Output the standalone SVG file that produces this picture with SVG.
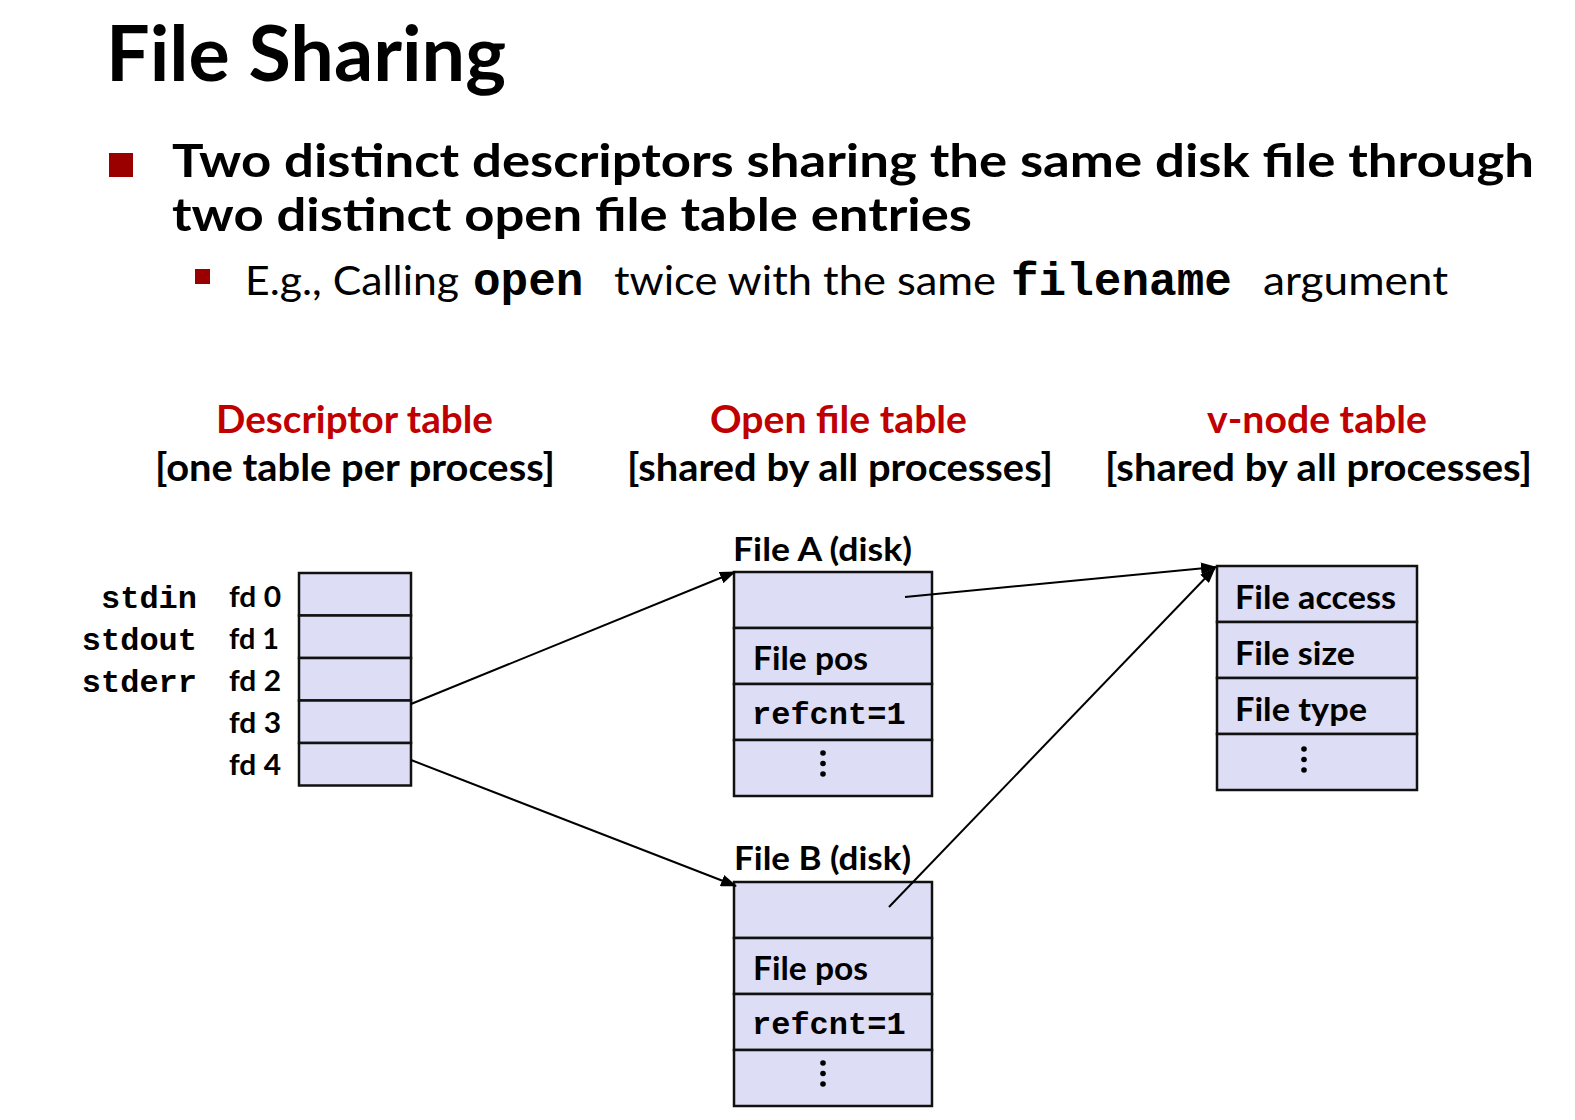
<svg xmlns="http://www.w3.org/2000/svg" width="1575" height="1120" viewBox="0 0 1575 1120">
<style>
.sans{font-family:Lato,"Open Sans","Liberation Sans",sans-serif;}
.b{font-weight:bold;}
.mono{font-family:"Liberation Mono","Courier New",monospace;font-weight:bold;}
.red{fill:#C00000;}
.cell{fill:#DDDDF5;stroke:#111;stroke-width:2.5;}
.lbl{font-family:Lato,"Open Sans","Liberation Sans",sans-serif;font-weight:bold;font-size:33px;fill:#000;}
.fd{font-family:Lato,"Open Sans","Liberation Sans",sans-serif;font-weight:bold;font-size:29px;fill:#000;}
.std{font-family:"Liberation Mono","Courier New",monospace;font-weight:bold;font-size:32px;fill:#000;}
.hdr{font-family:Lato,"Open Sans","Liberation Sans",sans-serif;font-weight:bold;font-size:38.5px;}
.conn{stroke:#000;stroke-width:2;fill:none;marker-end:url(#arr);}
.dot{fill:#000;}
</style>
<defs>
<marker id="arr" markerUnits="userSpaceOnUse" markerWidth="16" markerHeight="12" refX="15" refY="6" orient="auto">
<path d="M0,0 L16,6 L0,12 z" fill="#000"/>
</marker>
</defs>
<rect width="1575" height="1120" fill="#fff"/>

<g id="title">
<text class="sans b" x="106" y="81" font-size="77" textLength="400" lengthAdjust="spacingAndGlyphs">File Sharing</text>
</g>

<g id="bullets">
<rect x="109" y="153" width="24" height="24" fill="#9A0000"/>
<text class="sans b" x="172" y="177" font-size="45" textLength="1362" lengthAdjust="spacingAndGlyphs">Two distinct descriptors sharing the same disk file through</text>
<text class="sans b" x="172" y="231" font-size="45" textLength="800" lengthAdjust="spacingAndGlyphs">two distinct open file table entries</text>
<rect x="195" y="269" width="15" height="15" fill="#9A0000"/>
<text class="sans" x="245" y="295" font-size="41" textLength="214" lengthAdjust="spacingAndGlyphs">E.g., Calling</text>
<text class="mono" x="473" y="295" font-size="46">open</text>
<text class="sans" x="614" y="295" font-size="41" textLength="382" lengthAdjust="spacingAndGlyphs">twice with the same</text>
<text class="mono" x="1011" y="295" font-size="46">filename</text>
<text class="sans" x="1263" y="295" font-size="41" textLength="185" lengthAdjust="spacingAndGlyphs">argument</text>
</g>

<g id="headers">
<text class="hdr red" x="216" y="433" textLength="277" lengthAdjust="spacingAndGlyphs">Descriptor table</text>
<text class="hdr" x="155" y="481" textLength="400" lengthAdjust="spacingAndGlyphs">[one table per process]</text>
<text class="hdr red" x="710" y="433" textLength="257" lengthAdjust="spacingAndGlyphs">Open file table</text>
<text class="hdr" x="627" y="481" textLength="426" lengthAdjust="spacingAndGlyphs">[shared by all processes]</text>
<text class="hdr red" x="1207" y="433" textLength="220" lengthAdjust="spacingAndGlyphs">v-node table</text>
<text class="hdr" x="1105" y="481" textLength="427" lengthAdjust="spacingAndGlyphs">[shared by all processes]</text>
</g>

<g id="descriptor-table">
<rect class="cell" x="299" y="573" width="112" height="42.5"/>
<rect class="cell" x="299" y="615.5" width="112" height="42.5"/>
<rect class="cell" x="299" y="658" width="112" height="42.5"/>
<rect class="cell" x="299" y="700.5" width="112" height="42.5"/>
<rect class="cell" x="299" y="743" width="112" height="42.5"/>
<text class="std" x="197" y="608" text-anchor="end">stdin</text>
<text class="std" x="197" y="650" text-anchor="end">stdout</text>
<text class="std" x="197" y="692" text-anchor="end">stderr</text>
<text class="fd" x="229" y="607" textLength="52" lengthAdjust="spacingAndGlyphs">fd 0</text>
<text class="fd" x="229" y="649" textLength="50" lengthAdjust="spacingAndGlyphs">fd 1</text>
<text class="fd" x="229" y="691" textLength="52" lengthAdjust="spacingAndGlyphs">fd 2</text>
<text class="fd" x="229" y="733" textLength="52" lengthAdjust="spacingAndGlyphs">fd 3</text>
<text class="fd" x="229" y="775" textLength="52" lengthAdjust="spacingAndGlyphs">fd 4</text>
</g>

<g id="file-a">
<text class="lbl" x="733" y="561" textLength="179" lengthAdjust="spacingAndGlyphs">File A (disk)</text>
<rect class="cell" x="734" y="572" width="198" height="56"/>
<rect class="cell" x="734" y="628" width="198" height="56"/>
<rect class="cell" x="734" y="684" width="198" height="56"/>
<rect class="cell" x="734" y="740" width="198" height="56"/>
<text class="lbl" x="753" y="670" textLength="115" lengthAdjust="spacingAndGlyphs">File pos</text>
<text class="std" x="752" y="724">refcnt=1</text>
<circle class="dot" cx="823" cy="753" r="2.8"/>
<circle class="dot" cx="823" cy="763.5" r="2.8"/>
<circle class="dot" cx="823" cy="774" r="2.8"/>
</g>

<g id="file-b">
<text class="lbl" x="734" y="870" textLength="177" lengthAdjust="spacingAndGlyphs">File B (disk)</text>
<rect class="cell" x="734" y="882" width="198" height="56"/>
<rect class="cell" x="734" y="938" width="198" height="56"/>
<rect class="cell" x="734" y="994" width="198" height="56"/>
<rect class="cell" x="734" y="1050" width="198" height="56"/>
<text class="lbl" x="753" y="980" textLength="115" lengthAdjust="spacingAndGlyphs">File pos</text>
<text class="std" x="752" y="1034">refcnt=1</text>
<circle class="dot" cx="823" cy="1063" r="2.8"/>
<circle class="dot" cx="823" cy="1073.5" r="2.8"/>
<circle class="dot" cx="823" cy="1084" r="2.8"/>
</g>

<g id="vnode">
<rect class="cell" x="1217" y="566" width="200" height="56"/>
<rect class="cell" x="1217" y="622" width="200" height="56"/>
<rect class="cell" x="1217" y="678" width="200" height="56"/>
<rect class="cell" x="1217" y="734" width="200" height="56"/>
<text class="lbl" x="1235" y="609" textLength="161" lengthAdjust="spacingAndGlyphs">File access</text>
<text class="lbl" x="1235" y="665" textLength="120" lengthAdjust="spacingAndGlyphs">File size</text>
<text class="lbl" x="1235" y="721" textLength="132" lengthAdjust="spacingAndGlyphs">File type</text>
<circle class="dot" cx="1304" cy="749" r="2.8"/>
<circle class="dot" cx="1304" cy="759.5" r="2.8"/>
<circle class="dot" cx="1304" cy="770" r="2.8"/>
</g>

<g id="connectors">
<line class="conn" x1="411" y1="704" x2="735" y2="572"/>
<line class="conn" x1="411" y1="760" x2="736" y2="886"/>
<line class="conn" x1="905" y1="597" x2="1216" y2="567"/>
<line class="conn" x1="889" y1="907" x2="1215" y2="568"/>
</g>
</svg>
